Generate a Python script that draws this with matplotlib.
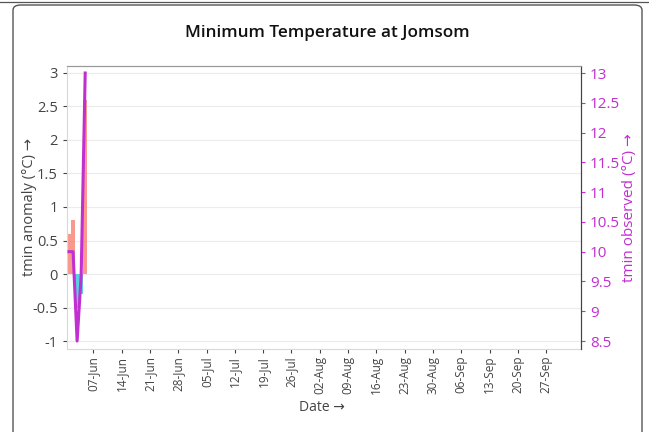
import pandas as pd
import matplotlib.pyplot as plt
import matplotlib.dates as mdates
from matplotlib.patches import FancyBboxPatch
from matplotlib.lines import Line2D

plt.rcParams['font.family'] = ['Open Sans', 'DejaVu Sans']

# Data
dates = pd.to_datetime(['2023-06-01', '2023-06-02', '2023-06-03', '2023-06-04', '2023-06-05'])
anomaly = [0.6, 0.8, -0.5, -0.3, 2.6]
observed = [10.0, 10.0, 8.5, 9.6, 13.0]
tick_dates = pd.date_range('2023-06-07', '2023-09-27', freq='7D')

purple = '#c12fd0'
text_grey = '#444444'

fig = plt.figure(figsize=(6.49, 4.32), dpi=100)

# outer card frame
frame = FancyBboxPatch((13 / 649, -0.05), 629 / 649, (432 - 5) / 432 + 0.05,
                       boxstyle='round,pad=0,rounding_size=0.012',
                       transform=fig.transFigure, facecolor='none',
                       edgecolor='#555555', linewidth=1.0)
fig.patches.append(frame)
fig.add_artist(Line2D([0, 1], [1 - 1.5 / 432, 1 - 1.5 / 432], transform=fig.transFigure,
                      color='#555555', linewidth=0.9))

ax = fig.add_axes([67 / 649, (432 - 349) / 432, (581 - 67) / 649, (349 - 66) / 432])

colors = ['#f8877a' if v >= 0 else '#3cc8e0' for v in anomaly]
ax.bar(dates, anomaly, width=1.05, color=colors, alpha=0.85, zorder=2)

ax.set_ylim(-1.119, 3.104)
ax.set_yticks([-1, -0.5, 0, 0.5, 1, 1.5, 2, 2.5, 3])
ax.set_yticklabels(['-1', '-0.5', '0', '0.5', '1', '1.5', '2', '2.5', '3'])
ax.grid(axis='y', color='#ececec', linewidth=0.8, zorder=0)
ax.set_axisbelow(True)

ax.set_xlim(pd.Timestamp('2023-05-31 12:00'), pd.Timestamp('2023-10-05 14:00'))
ax.set_xticks(tick_dates)
ax.xaxis.set_major_formatter(mdates.DateFormatter('%d-%b'))
ax.tick_params(axis='x', rotation=90, labelsize=8.5, colors=text_grey, length=3, width=0.8, pad=2)
ax.tick_params(axis='y', labelsize=10.5, colors=text_grey, length=3, width=0.8)
ax.set_xlabel('Date →', fontsize=10, color=text_grey)
ax.xaxis.set_label_coords(0.496, -0.18)
ax.set_ylabel('tmin anomaly (°C) →', fontsize=10.5, color=text_grey)
ax.yaxis.set_label_coords(-0.058, 0.5)

for s in ['left', 'bottom']:
    ax.spines[s].set_color('#d8d8d8')
ax.spines['top'].set_color('#999999')
ax.spines['right'].set_color('#444444')

ax2 = ax.twinx()
ax2.plot(dates, observed, color=purple, linewidth=2.2, zorder=3)
ax2.set_ylim(8.366, 13.118)
ax2.set_yticks([8.5, 9, 9.5, 10, 10.5, 11, 11.5, 12, 12.5, 13])
ax2.set_yticklabels(['8.5', '9', '9.5', '10', '10.5', '11', '11.5', '12', '12.5', '13'])
ax2.tick_params(axis='y', labelsize=11, colors=purple, length=3, width=0.8)
ax2.set_ylabel('tmin observed (°C) →', fontsize=11, color=purple)
ax2.yaxis.set_label_coords(1.079, 0.5)
ax2.spines['right'].set_color('#444444')
ax2.spines['top'].set_color('#999999')
ax2.spines['left'].set_visible(False)
ax2.spines['bottom'].set_visible(False)

fig.text(327 / 649, 1 - 33 / 432, 'Minimum Temperature at Jomsom', ha='center', va='center',
         fontsize=12.3, fontweight='semibold', color='#111111')

plt.savefig('out.png', dpi=100)
plt.close()
